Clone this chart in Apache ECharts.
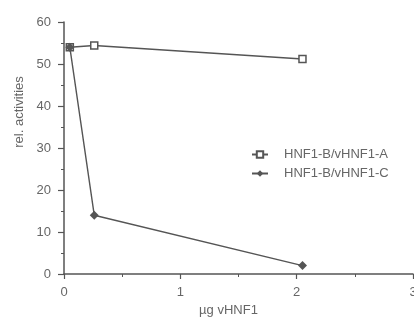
<!DOCTYPE html>
<html>
<head>
<meta charset="utf-8">
<script src="https://cdn.jsdelivr.net/npm/echarts@6/dist/echarts.min.js"></script>
<style>
  html, body { margin: 0; padding: 0; background: #fff; }
  #chart { width: 414px; height: 321px; }
</style>
</head>
<body>
<div id="chart"></div>
<script>
// µg vHNF1 doses
const doseA = [0.05, 0.26, 2.05];
const doseC = [0.05, 0.26, 2.05];
// rel. activities
const activityA = [54, 54.4, 51.2];
const activityC = [54, 14, 2];
const seriesNames = ['HNF1-B/vHNF1-A', 'HNF1-B/vHNF1-C'];

const gray = '#555';
const textGray = '#666';

const myChart = echarts.init(document.getElementById('chart'));
const option = {
  animation: false,
  textStyle: { fontFamily: 'Liberation Sans, Arial, sans-serif' },
  grid: { left: 64, right: 1, top: 22, bottom: 47, outerBoundsMode: 'none', containLabel: false },
  legend: {
    orient: 'vertical',
    left: 246,
    top: 143,
    itemGap: 6,
    itemWidth: 16,
    itemHeight: 8,
    textStyle: { color: textGray, fontSize: 13, padding: [0, 0, 0, 11] },
    data: seriesNames,
  },
  xAxis: {
    type: 'value',
    min: 0,
    max: 3,
    interval: 1,
    name: 'µg vHNF1',
    nameLocation: 'middle',
    nameGap: 26,
    nameTextStyle: { color: textGray, fontSize: 13, padding: [0, 20, 0, 0] },
    axisLine: { lineStyle: { color: gray, width: 1.5 } },
    axisTick: { show: true, length: 5, lineStyle: { color: gray, width: 1.2 } },
    minorTick: { show: true, splitNumber: 2, length: 3, lineStyle: { color: gray } },
    axisLabel: { color: textGray, fontSize: 13, margin: 12, showMaxLabel: true },
    splitLine: { show: false },
  },
  yAxis: {
    type: 'value',
    min: 0,
    max: 60,
    interval: 10,
    name: 'rel. activities',
    nameLocation: 'middle',
    nameGap: 38,
    nameTextStyle: { color: textGray, fontSize: 13, padding: [0, 0, 0, 72] },
    axisLine: { show: true, lineStyle: { color: gray, width: 1.5 } },
    axisTick: { show: true, length: 6, lineStyle: { color: gray, width: 1.2 } },
    minorTick: { show: true, splitNumber: 2, length: 3, lineStyle: { color: gray } },
    axisLabel: { color: textGray, fontSize: 13, margin: 13 },
    splitLine: { show: false },
  },
  series: [
    {
      name: seriesNames[0],
      type: 'line',
      symbol: 'rect',
      symbolSize: 7,
      data: doseA.map((x, i) => [x, activityA[i]]),
      lineStyle: { color: gray, width: 1.4 },
      itemStyle: { color: '#fff', borderColor: gray, borderWidth: 1.5 },
    },
    {
      name: seriesNames[1],
      type: 'line',
      symbol: 'diamond',
      symbolSize: 9,
      data: doseC.map((x, i) => [x, activityC[i]]),
      lineStyle: { color: gray, width: 1.4 },
      itemStyle: { color: gray },
    },
  ],
};
myChart.setOption(option);
</script>
</body>
</html>
